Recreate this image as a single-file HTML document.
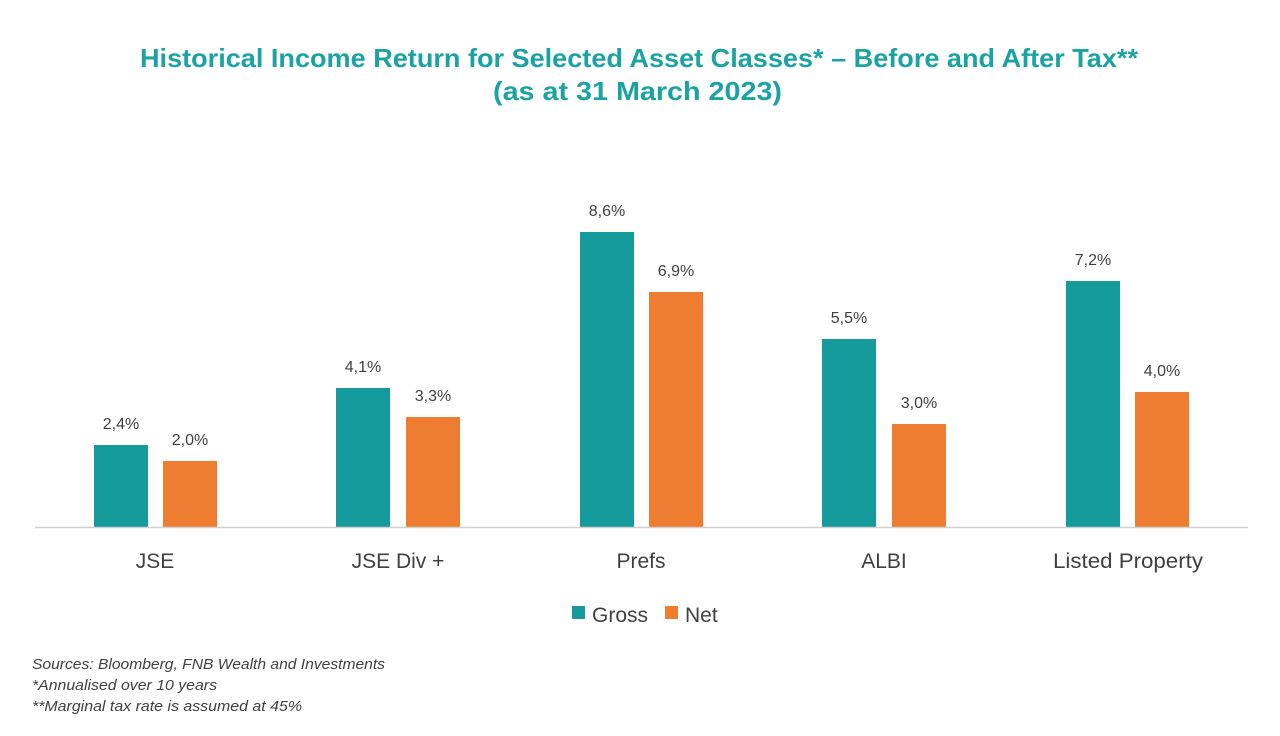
<!DOCTYPE html>
<html><head><meta charset="utf-8"><style>
html,body{margin:0;padding:0;background:#fff;width:1280px;height:736px;overflow:hidden}
svg{display:block}
</style></head><body>
<svg width="1280" height="736" xmlns="http://www.w3.org/2000/svg" font-family="Liberation Sans, sans-serif">
<text x="140" y="67" textLength="998" lengthAdjust="spacingAndGlyphs" font-size="26" font-weight="bold" fill="#1BA3A3">Historical Income Return for Selected Asset Classes* – Before and After Tax**</text>
<text x="493" y="100" textLength="289" lengthAdjust="spacingAndGlyphs" font-size="26" font-weight="bold" fill="#1BA3A3">(as at 31 March 2023)</text>
<g fill="#159B9B">
<rect x="94" y="445" width="54" height="82"/>
<rect x="336" y="388" width="54" height="139"/>
<rect x="580" y="232" width="54" height="295"/>
<rect x="822" y="339" width="54" height="188"/>
<rect x="1066" y="281" width="54" height="246"/>
</g>
<g fill="#EE7D31">
<rect x="163" y="461" width="54" height="66"/>
<rect x="406" y="417" width="54" height="110"/>
<rect x="649" y="292" width="54" height="235"/>
<rect x="892" y="424" width="54" height="103"/>
<rect x="1135" y="392" width="54" height="135"/>
</g>
<line x1="35" y1="527.5" x2="1248" y2="527.5" stroke="#d0d0d0" stroke-width="1.5"/>
<g font-size="16" fill="#404040" text-anchor="middle">
<text x="121" y="429">2,4%</text><text x="190" y="445">2,0%</text>
<text x="363" y="372">4,1%</text><text x="433" y="401">3,3%</text>
<text x="607" y="216">8,6%</text><text x="676" y="276">6,9%</text>
<text x="849" y="323">5,5%</text><text x="919" y="408">3,0%</text>
<text x="1093" y="265">7,2%</text><text x="1162" y="376">4,0%</text>
</g>
<g font-size="21" fill="#404040" text-anchor="middle">
<text x="155" y="568">JSE</text>
<text x="398" y="568">JSE Div +</text>
<text x="641" y="568">Prefs</text>
<text x="884" y="568">ALBI</text>
<text x="1128" y="568" textLength="150" lengthAdjust="spacingAndGlyphs">Listed Property</text>
</g>
<rect x="572" y="606" width="13" height="13" fill="#159B9B"/>
<text x="592" y="622" font-size="21" fill="#404040">Gross</text>
<rect x="665" y="606" width="13" height="13" fill="#EE7D31"/>
<text x="685" y="622" font-size="21" fill="#404040">Net</text>
<g font-size="14.5" font-style="italic" fill="#404040">
<text x="32" y="669" textLength="353" lengthAdjust="spacingAndGlyphs">Sources: Bloomberg, FNB Wealth and Investments</text>
<text x="32" y="690" textLength="185" lengthAdjust="spacingAndGlyphs">*Annualised over 10 years</text>
<text x="32" y="711" textLength="270" lengthAdjust="spacingAndGlyphs">**Marginal tax rate is assumed at 45%</text>
</g>
</svg>
</body></html>
